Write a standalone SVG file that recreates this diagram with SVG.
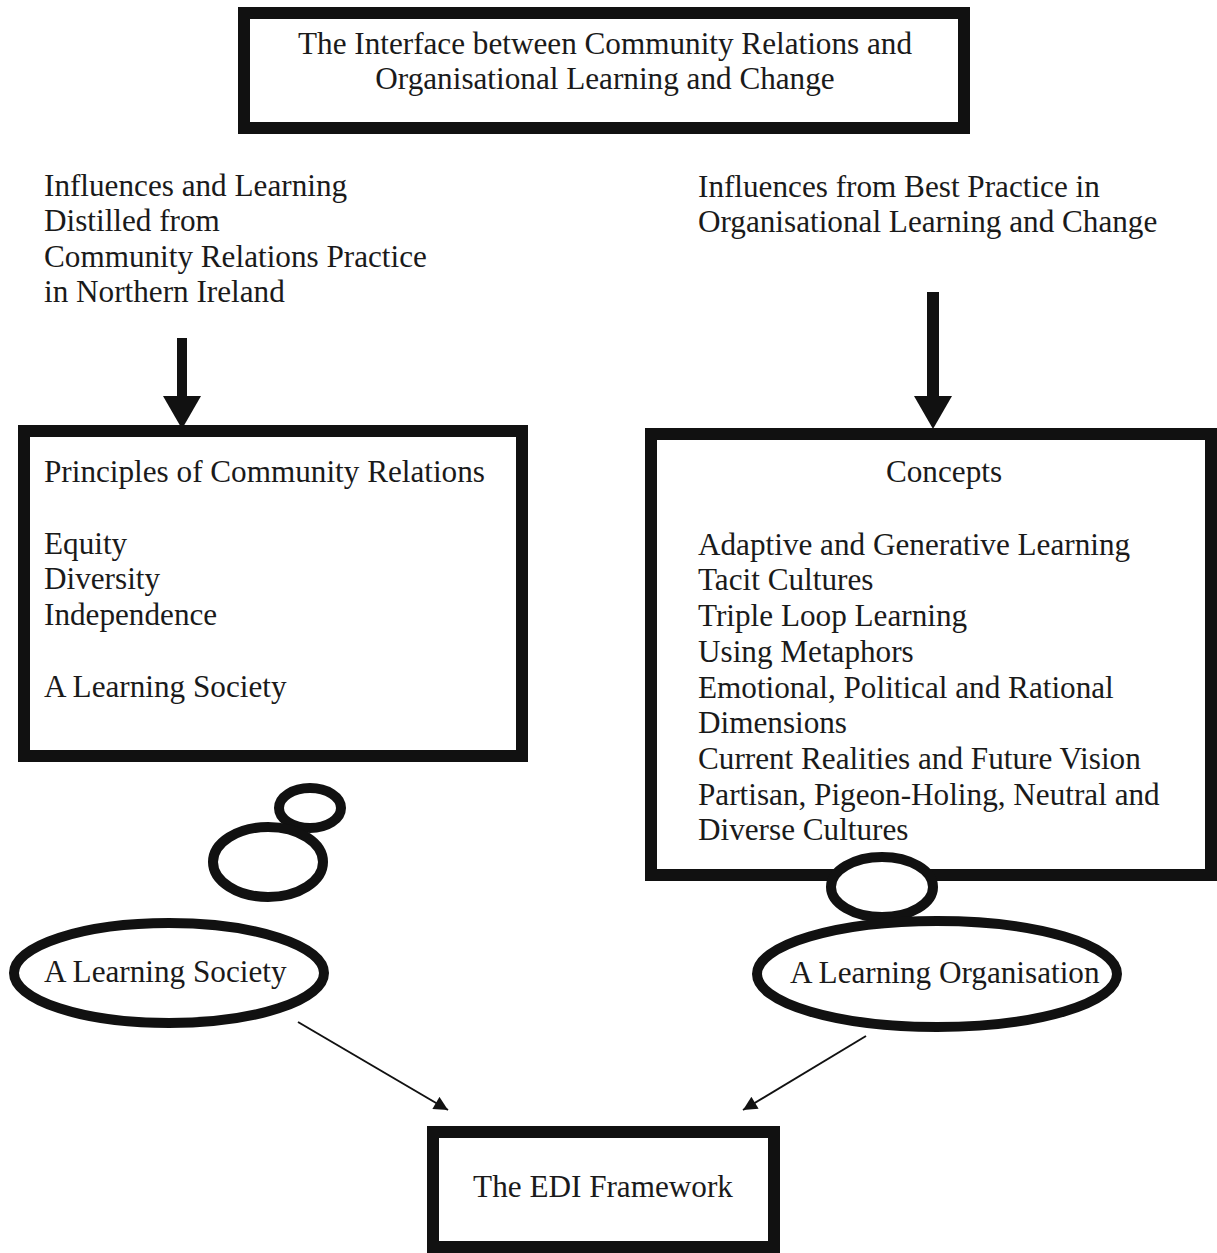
<svg xmlns="http://www.w3.org/2000/svg" width="1217" height="1253" viewBox="0 0 1217 1253">
<style>
text{font-family:"Liberation Serif","Times New Roman",serif;font-size:31.2px;fill:#1a1a1a}
.box{fill:#fff;stroke:#111;stroke-width:12}
.ring{fill:#fff;stroke:#111;stroke-width:10}
.thin{stroke:#111;stroke-width:2;fill:none}
.mid{text-anchor:middle}
</style>
<defs>
<marker id="ah" viewBox="0 0 10 10" refX="10" refY="5" markerWidth="16" markerHeight="14" markerUnits="userSpaceOnUse" orient="auto"><path d="M0,0 L10,5 L0,10 z" fill="#111"/></marker>
</defs>
<rect width="1217" height="1253" fill="#fff"/>
<g id="title">
<rect class="box" x="244" y="13" width="720" height="115"/>
<text class="mid" x="605" y="54">The Interface between Community Relations and</text>
<text class="mid" x="605" y="89">Organisational Learning and Change</text>
</g>
<g id="left-influences">
<text x="44" y="196">Influences and Learning</text>
<text x="44" y="231">Distilled from</text>
<text x="44" y="267">Community Relations Practice</text>
<text x="44" y="302">in Northern Ireland</text>
</g>
<g id="right-influences">
<text x="698" y="197">Influences from Best Practice in</text>
<text x="698" y="232">Organisational Learning and Change</text>
</g>
<g id="principles">
<rect class="box" x="24" y="431" width="498" height="325"/>
<text x="44" y="482">Principles of Community Relations</text>
<text x="44" y="554">Equity</text>
<text x="44" y="589">Diversity</text>
<text x="44" y="625">Independence</text>
<text x="44" y="697">A Learning Society</text>
</g>
<g id="concepts">
<rect class="box" x="651" y="434" width="560" height="441"/>
<text class="mid" x="944" y="482">Concepts</text>
<text x="698" y="555">Adaptive and Generative Learning</text>
<text x="698" y="590">Tacit Cultures</text>
<text x="698" y="626">Triple Loop Learning</text>
<text x="698" y="662">Using Metaphors</text>
<text x="698" y="698">Emotional, Political and Rational</text>
<text x="698" y="733">Dimensions</text>
<text x="698" y="769">Current Realities and Future Vision</text>
<text x="698" y="805">Partisan, Pigeon-Holing, Neutral and</text>
<text x="698" y="840">Diverse Cultures</text>
</g>
<g id="left-bubbles">
<ellipse class="ring" cx="310" cy="808" rx="31" ry="20"/>
<ellipse class="ring" cx="268" cy="862" rx="55" ry="35"/>
</g>
<g id="right-bubble">
<ellipse class="ring" cx="882" cy="887" rx="51" ry="30"/>
</g>
<g id="learning-society">
<ellipse class="ring" cx="169" cy="973" rx="155" ry="50" stroke-width="12"/>
<text x="44" y="982">A Learning Society</text>
</g>
<g id="learning-organisation">
<ellipse class="ring" cx="937" cy="974" rx="180" ry="53"/>
<text x="790" y="983">A Learning Organisation</text>
</g>
<g id="edi">
<rect class="box" x="433" y="1132" width="341" height="115"/>
<text class="mid" x="603" y="1197">The EDI Framework</text>
</g>
<g id="connectors">
<rect x="177" y="338" width="10" height="60" fill="#111"/>
<path d="M163,396 L201,396 L182,429 z" fill="#111"/>
<rect x="927" y="292" width="12" height="104" fill="#111"/>
<path d="M914,396 L952,396 L933,429 z" fill="#111"/>
<line class="thin" x1="298" y1="1022" x2="448" y2="1110" marker-end="url(#ah)"/>
<line class="thin" x1="866" y1="1036" x2="743" y2="1110" marker-end="url(#ah)"/>
</g>
</svg>
